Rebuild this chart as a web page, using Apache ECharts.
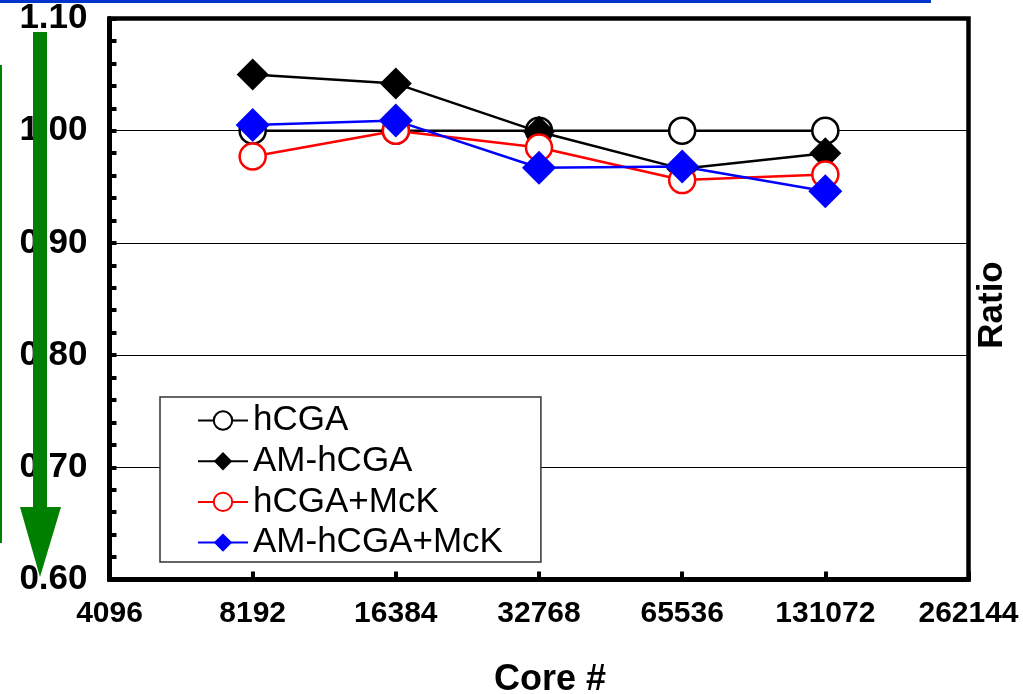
<!DOCTYPE html>
<html>
<head>
<meta charset="utf-8">
<script src="https://cdn.jsdelivr.net/npm/echarts@6/dist/echarts.min.js"></script>
<style>
html,body{margin:0;padding:0;background:#fff;}
#chart{width:1023px;height:694px;}
</style>
</head>
<body>
<div id="chart"></div>
<script>
const cores = [8192, 16384, 32768, 65536, 131072];
const xTicks = [4096, 8192, 16384, 32768, 65536, 131072, 262144];
const hCGA = [1.000, 1.000, 1.000, 1.000, 1.000];
const amHCGA = [1.050, 1.042, 0.999, 0.966, 0.980];
const hCGAMcK = [0.977, 1.000, 0.985, 0.956, 0.961];
const amHCGAMcK = [1.005, 1.009, 0.967, 0.968, 0.946];
const seriesNames = ['hCGA', 'AM-hCGA', 'hCGA+McK', 'AM-hCGA+McK'];

const pairs = vals => cores.map((c, i) => [c, vals[i]]);
const chart = echarts.init(document.getElementById('chart'), null, {renderer: 'canvas'});
const FONT = "'Liberation Sans', Arial, sans-serif";

function lineSeries(name, vals, symbol, size, color, fill) {
  return {
    name: name, type: 'line', data: pairs(vals),
    symbol: symbol, symbolSize: size, showAllSymbol: true,
    lineStyle: {color: color, width: 2.5},
    itemStyle: {color: fill, borderColor: color, borderWidth: symbol === 'circle' ? 2.5 : 0},
    emphasis: {disabled: true}, animation: false
  };
}

chart.setOption({
  animation: false,
  backgroundColor: '#fff',
  grid: {left: 109.5, right: 54.5, top: 18.5, bottom: 114.5, show: true, containLabel: false,
         outerBoundsMode: 'none',
         borderColor: '#000', borderWidth: 4.5, backgroundColor: 'transparent'},
  legend: {
    orient: 'vertical', left: 160, top: 397,
    backgroundColor: '#fff', borderColor: '#333', borderWidth: 1.5, borderRadius: 0,
    padding: [6, 38, 2, 37], itemGap: 5.7, itemWidth: 50, itemHeight: 23,
    textStyle: {fontFamily: FONT, fontSize: 35, color: '#000', lineHeight: 34},
    data: seriesNames
  },
  xAxis: {
    type: 'log', logBase: 2, min: xTicks[0], max: xTicks[xTicks.length - 1], splitNumber: 6,
    name: 'Core #', nameLocation: 'middle', nameGap: 83,
    nameTextStyle: {fontFamily: FONT, fontSize: 36, fontWeight: 'bold', color: '#000', padding: [0, 0, 0, 22]},
    axisLine: {lineStyle: {color: '#000', width: 5}},
    axisTick: {inside: true, length: 8, lineStyle: {color: '#000', width: 4}},
    axisLabel: {fontFamily: FONT, fontSize: 30, fontWeight: 'bold', color: '#000', margin: 19,
                formatter: v => String(Math.round(v))},
    splitLine: {show: false}, minorTick: {show: false}
  },
  yAxis: {
    type: 'value', min: 0.6, max: 1.1, interval: 0.1,
    axisLine: {show: true, lineStyle: {color: '#000', width: 5}},
    axisTick: {show: true, inside: true, length: 7, lineStyle: {color: '#000', width: 4}},
    minorTick: {show: true, splitNumber: 5, length: 7, lineStyle: {color: '#000', width: 4}},
    axisLabel: {fontFamily: FONT, fontSize: 35, fontWeight: 'bold', color: '#000', margin: 22,
                formatter: v => v.toFixed(2)},
    splitLine: {show: true, lineStyle: {color: '#000', width: 1}}
  },
  series: [
    lineSeries(seriesNames[0], hCGA, 'circle', 26, '#000', '#fff'),
    lineSeries(seriesNames[1], amHCGA, 'diamond', 32, '#000', '#000'),
    lineSeries(seriesNames[2], hCGAMcK, 'circle', 26, '#ff0000', '#fff'),
    lineSeries(seriesNames[3], amHCGAMcK, 'diamond', 34, '#0000ff', '#0000ff')
  ],
  graphic: [
    {type: 'rect', z: 100, shape: {x: 0, y: 0, width: 931, height: 3}, style: {fill: '#0033cc'}},
    {type: 'rect', z: 100, shape: {x: 0, y: 65, width: 2, height: 478}, style: {fill: '#008000'}},
    {type: 'polygon', z: 100, shape: {points: [[33, 32], [47, 32], [47, 507], [61, 507], [40, 577], [20, 507], [33, 507]]},
     style: {fill: '#008000'}},
    {type: 'text', z: 100, x: 992, y: 305, rotation: Math.PI / 2,
     style: {text: 'Ratio', font: "bold 35px 'Liberation Sans', Arial, sans-serif", fill: '#000',
             align: 'center', verticalAlign: 'middle'}}
  ]
});
</script>
</body>
</html>
